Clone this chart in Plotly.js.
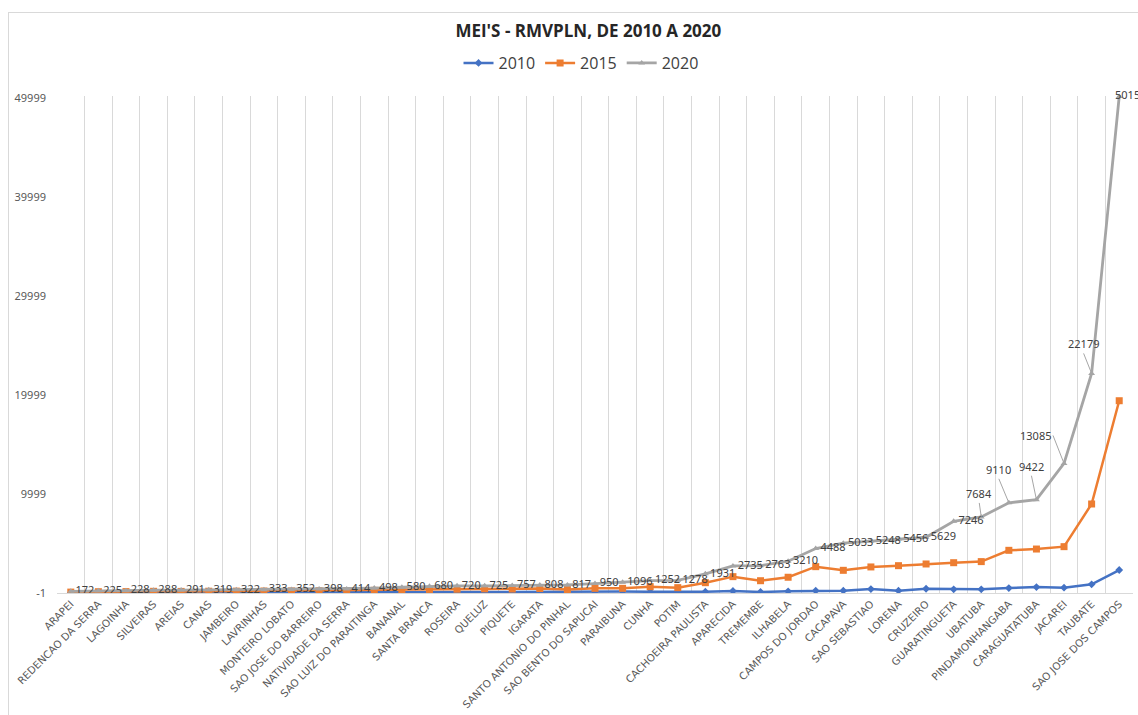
<!DOCTYPE html>
<html>
<head>
<meta charset="utf-8">
<script src="https://cdn.plot.ly/plotly-3.0.1.min.js"></script>
<style>
html,body{margin:0;padding:0;background:#fff;}
#wrap{position:relative;width:1138px;height:715px;overflow:hidden;}
#chart{position:absolute;left:0;top:0;width:1138px;height:715px;}
#frame{position:absolute;left:8px;top:12px;width:1200px;height:800px;border-left:1px solid #D9D9D9;border-top:1px solid #D9D9D9;pointer-events:none;}
</style>
</head>
<body>
<div id="wrap"><div id="chart"></div><div id="frame"></div></div>
<script>
const categories = ["ARAPEI","REDENCAO DA SERRA","LAGOINHA","SILVEIRAS","AREIAS","CANAS","JAMBEIRO","LAVRINHAS","MONTEIRO LOBATO","SAO JOSE DO BARREIRO","NATIVIDADE DA SERRA","SAO LUIZ DO PARAITINGA","BANANAL","SANTA BRANCA","ROSEIRA","QUELUZ","PIQUETE","IGARATA","SANTO ANTONIO DO PINHAL","SAO BENTO DO SAPUCAI","PARAIBUNA","CUNHA","POTIM","CACHOEIRA PAULISTA","APARECIDA","TREMEMBE","ILHABELA","CAMPOS DO JORDAO","CACAPAVA","SAO SEBASTIAO","LORENA","CRUZEIRO","GUARATINGUETA","UBATUBA","PINDAMONHANGABA","CARAGUATATUBA","JACAREI","TAUBATE","SAO JOSE DOS CAMPOS"];
const values2010 = [20,30,30,40,40,50,40,60,50,60,70,70,80,100,90,110,100,120,130,150,160,120,120,130,200,100,170,230,230,400,230,430,370,370,500,600,540,880,2320];
const values2015 = [90,130,140,170,160,180,190,200,210,230,250,270,300,360,380,420,400,450,350,470,470,640,540,1040,1650,1240,1590,2660,2290,2630,2760,2930,3060,3170,4310,4440,4680,8990,19420];
const values2020 = [172,225,228,288,291,319,322,333,352,398,414,498,580,680,720,725,757,808,817,950,1096,1252,1278,1931,2735,2763,3210,4488,5033,5248,5456,5629,7246,7684,9110,9422,13085,22179,50150];
const yTicks = [-1,9999,19999,29999,39999,49999];
// label placement for labels that Excel moved off the point: [ax, ay, xanchor, yanchor, showLeader]
const movedLabels = {
  "UBATUBA":[-2,-14,'center','bottom',true],
  "PINDAMONHANGABA":[-10,-24,'center','bottom',true],
  "CARAGUATATUBA":[-5,-24,'center','bottom',true],
  "JACAREI":[-11,-28,'right','middle',true],
  "TAUBATE":[-8,-20,'center','bottom',true],
  "SAO JOSE DOS CAMPOS":[-6,2,'left','middle',false]
};

const labelFont = {family:'Noto Sans, sans-serif', size:11, color:'#404040'};
const labelText = values2020.map((v,i)=> movedLabels[categories[i]] ? "" : String(v));
const annotations = categories.filter(c=>movedLabels[c]).map(c=>{
  const i = categories.indexOf(c);
  const m = movedLabels[c];
  const a = {x:c, y:values2020[i], xref:'x', yref:'y', text:String(values2020[i]),
    xanchor:m[2], yanchor:m[3], font:labelFont};
  if (m[4]) {
    Object.assign(a, {showarrow:true, arrowhead:0, arrowwidth:1, arrowcolor:'#A6A6A6', ax:m[0], ay:m[1], standoff:0});
  } else {
    Object.assign(a, {showarrow:false, xshift:m[0], yshift:m[1]});
  }
  return a;
});

const traces = [
  {x:categories, y:values2010, name:'2010', type:'scatter', mode:'lines+markers',
   line:{color:'#4472C4', width:2.5}, marker:{symbol:'diamond', size:6, color:'#4472C4'}},
  {x:categories, y:values2015, name:'2015', type:'scatter', mode:'lines+markers',
   line:{color:'#ED7D31', width:2.5}, marker:{symbol:'square', size:7, color:'#ED7D31'}},
  {x:categories, y:values2020, name:'2020', type:'scatter', mode:'lines+markers+text',
   line:{color:'#A5A5A5', width:2.8}, marker:{symbol:'triangle-up', size:6, color:'#A5A5A5'},
   text:labelText, textposition:'middle right', cliponaxis:false, textfont:labelFont}
];

const layout = {
  width:1138, height:715,
  margin:{l:57, r:5, t:96, b:122},
  paper_bgcolor:'rgba(0,0,0,0)', plot_bgcolor:'#fff',
  title:{text:"MEI'S - RMVPLN, DE 2010 A 2020", x:0.517, xanchor:'center', y:1-31/715, yref:'container', yanchor:'middle',
    font:{family:'Open Sans, sans-serif', size:17, color:'#262626', weight:'bold'}},
  showlegend:true,
  legend:{orientation:'h', x:0.487, xanchor:'center', y:1-63/715, yref:'container', yanchor:'middle',
    font:{family:'Open Sans, sans-serif', size:16, color:'#404040'}, itemwidth:30, tracegroupgap:0},
  xaxis:{type:'category', range:[-0.5,38.5], tickson:'boundaries', showgrid:true, gridcolor:'#D9D9D9', gridwidth:1,
    tickangle:-45, ticks:'', showline:true, linecolor:'#D9D9D9', linewidth:1,
    tickfont:{family:'DejaVu Sans, sans-serif', size:10.3, color:'#595959'}, fixedrange:true},
  yaxis:{range:[-1,50200], tickvals:yTicks, ticktext:yTicks.map(String), showgrid:false, zeroline:false,
    showline:false, ticks:'', ticklabelstandoff:10,
    tickfont:{family:'Noto Sans, sans-serif', size:11, color:'#595959'}, fixedrange:true},
  annotations:annotations
};

Plotly.newPlot('chart', traces, layout, {displayModeBar:false, staticPlot:true});
</script>
</body>
</html>
